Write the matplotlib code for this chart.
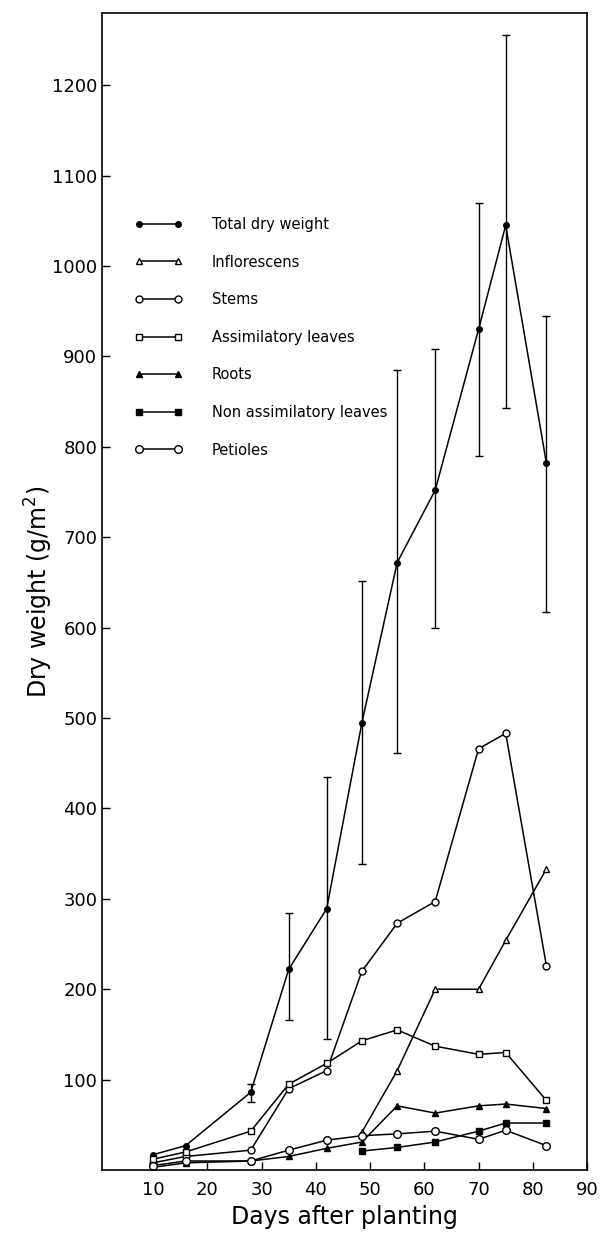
import matplotlib.pyplot as plt

# sampling days
days = [10, 16, 28, 35, 42, 48.5, 55, 62, 70, 75, 82.5]
late_days = [48.5, 55, 62, 70, 75, 82.5]

total = [17, 27, 86, 222, 289, 495, 672, 752, 930, 1045, 782]
err_days = [28, 35, 42, 48.5, 55, 62, 70, 75, 82.5]
err_low = [75, 166, 145, 338, 461, 600, 790, 843, 617]
err_high = [95, 284, 435, 652, 885, 908, 1070, 1255, 945]

inflorescens = [42, 110, 200, 200, 254, 333]
stems = [8, 15, 22, 90, 110, 220, 273, 297, 466, 483, 226]
assim_leaves = [12, 20, 43, 95, 118, 143, 155, 137, 128, 130, 77]
roots = [3, 8, 10, 15, 24, 31, 71, 63, 71, 73, 68]
nonassim_leaves = [21, 25, 31, 43, 52, 52]
petioles = [5, 10, 10, 22, 33, 38, 40, 43, 34, 44, 27]

xticks = [10, 20, 30, 40, 50, 60, 70, 80, 90]
yticks = [100, 200, 300, 400, 500, 600, 700, 800, 900, 1000, 1100, 1200]

plt.rcParams["font.family"] = "DejaVu Sans"

fig = plt.figure(figsize=(6.04, 12.35), dpi=100)
ax = fig.add_axes([0.169, 0.0526, 0.803, 0.937])

lw = 1.1
ax.plot(days, total, color="black", lw=lw, marker="o", ms=4,
        mfc="black", label="Total dry weight")
tot_at = [total[days.index(d)] for d in err_days]
yerr = [[t - lo for t, lo in zip(tot_at, err_low)],
        [hi - t for t, hi in zip(tot_at, err_high)]]
ax.errorbar(err_days, tot_at, yerr=yerr, fmt="none", ecolor="black",
            elinewidth=1.0, capsize=3, capthick=1.0)
ax.plot(late_days, inflorescens, color="black", lw=lw, marker="^", ms=5,
        mfc="white", label="Inflorescens")
ax.plot(days, stems, color="black", lw=lw, marker="o", ms=5,
        mfc="white", label="Stems")
ax.plot(days, assim_leaves, color="black", lw=lw, marker="s", ms=5,
        mfc="white", label="Assimilatory leaves")
ax.plot(days, roots, color="black", lw=lw, marker="^", ms=4.5,
        mfc="black", label="Roots")
ax.plot(late_days, nonassim_leaves, color="black", lw=lw, marker="s", ms=4.5,
        mfc="black", label="Non assimilatory leaves")
ax.plot(days, petioles, color="black", lw=lw, marker="o", ms=5.5,
        mfc="white", label="Petioles")

ax.set_xlim(0.6, 90)
ax.set_ylim(0, 1280)
ax.set_xticks(xticks)
ax.set_yticks(yticks)
ax.tick_params(direction="in", length=6, width=1, labelsize=13)
ax.tick_params(axis="x", pad=8)
for s in ax.spines.values():
    s.set_linewidth(1.2)

ax.set_xlabel("Days after planting", fontsize=17, labelpad=4)
ax.set_ylabel("Dry weight (g/m$^2$)", fontsize=17, labelpad=-2)

ax.legend(loc="upper left", bbox_to_anchor=(0.04, 0.835), frameon=False,
          numpoints=2, handlelength=3.3, labelspacing=1.55, fontsize=10.5,
          handletextpad=2.0)

fig.savefig("out.png", dpi=100)
